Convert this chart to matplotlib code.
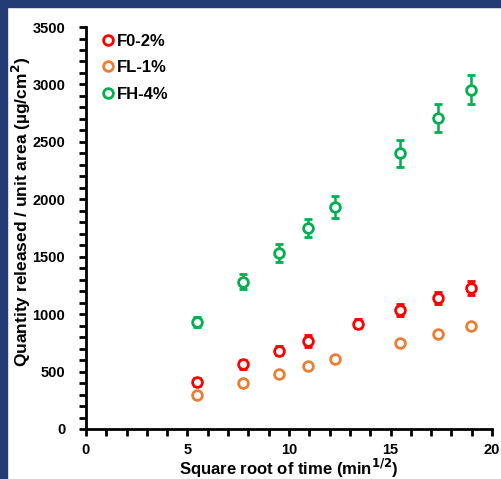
import matplotlib
matplotlib.use("Agg")
import matplotlib.pyplot as plt
from matplotlib.lines import Line2D
from matplotlib.patches import Rectangle
from matplotlib.ticker import MultipleLocator

plt.rcParams['font.family'] = ['Liberation Sans', 'DejaVu Sans']
plt.rcParams['font.weight'] = 'bold'

# square root of time values for each series
x_f0 = [5.48, 7.75, 9.49, 10.95, 13.42, 15.49, 17.32, 18.97]
y_f0 = [410, 565, 680, 765, 915, 1035, 1140, 1225]
e_f0 = [35, 40, 40, 50, 40, 50, 50, 60]

x_fl = [5.48, 7.75, 9.49, 10.95, 12.25, 15.49, 17.32, 18.97]
y_fl = [300, 398, 478, 548, 608, 750, 823, 895]
e_fl = [20, 25, 25, 25, 25, 25, 25, 25]

x_fh = [5.48, 7.75, 9.49, 10.95, 12.25, 15.49, 17.32, 18.97]
y_fh = [932, 1283, 1535, 1752, 1932, 2400, 2708, 2955]
e_fh = [40, 65, 80, 80, 98, 118, 120, 127]

labels = ['F0-2%', 'FL-1%', 'FH-4%']
colors = ['#ff0000', '#ed7d31', '#00b050']

fig = plt.figure(figsize=(5.02, 4.79), dpi=100)
# dark blue frame on the left and top
fig.patches.append(Rectangle((0, 0), 7 / 502, 1, transform=fig.transFigure, color='#243c74', zorder=0))
fig.patches.append(Rectangle((0, 1 - 7 / 479), 1, 7 / 479, transform=fig.transFigure, color='#243c74', zorder=0))

ax = fig.add_axes([0.1713, 0.1044, 0.8088, 0.8392])

series = [(x_f0, y_f0, e_f0), (x_fl, y_fl, e_fl), (x_fh, y_fh, e_fh)]
for (xs, ys, es), c in zip(series, colors):
    ax.errorbar(xs, ys, yerr=es, fmt='o', mfc='white', mec=c, ms=7, mew=2,
                ecolor=c, elinewidth=1.8, capsize=3, capthick=2)

ax.set_xlim(0, 20)
ax.set_ylim(0, 3500)
ax.xaxis.set_major_locator(MultipleLocator(5))
ax.xaxis.set_minor_locator(MultipleLocator(1))
ax.yaxis.set_major_locator(MultipleLocator(500))
ax.yaxis.set_minor_locator(MultipleLocator(100))

for s in ['top', 'right']:
    ax.spines[s].set_visible(False)
for s in ['left', 'bottom']:
    ax.spines[s].set_linewidth(2)

ax.tick_params(which='both', direction='out', width=2, length=5, labelsize=10.5)
ax.tick_params(axis='y', which='major', pad=10)
ax.tick_params(axis='x', which='major', pad=5)
for t in ax.get_xticklabels() + ax.get_yticklabels():
    t.set_fontweight('bold')

ax.set_xlabel('Square root of time (min$^{\\mathbf{1/2}}$)', fontsize=12, fontweight='bold', labelpad=0)
ax.set_ylabel('Quantity released / unit area (µg/cm$^{\\mathbf{2}}$)', fontsize=12.5, fontweight='bold')
ax.yaxis.set_label_coords(-0.13, 0.54)

handles = [Line2D([], [], ls='none', marker='o', mfc='white', mec=c, ms=7, mew=2) for c in colors]
ax.legend(handles, labels, loc='upper left', bbox_to_anchor=(0.0, 1.02), frameon=False,
          handlelength=0.8, handletextpad=0.15, labelspacing=0.68, prop={'weight': 'bold', 'size': 12})

fig.savefig('out.png', dpi=100)
